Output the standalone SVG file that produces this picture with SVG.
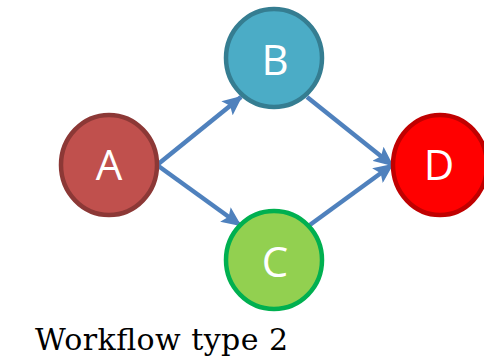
<svg xmlns="http://www.w3.org/2000/svg" width="484" height="359" viewBox="0 0 484 359">
  <style>
    .node ellipse { stroke-width: 4.5; }
    .label { font-family: "Open Sans", "Liberation Sans", sans-serif; font-size: 42px; fill: #ffffff; text-anchor: middle; }
    .edge { stroke: #4F81BD; stroke-width: 4.5; fill: none; marker-end: url(#arrow); }
    .caption { font-family: "DejaVu Serif", "Liberation Serif", serif; font-size: 30px; fill: #000000; }
  </style>
  <defs>
    <marker id="arrow" markerUnits="userSpaceOnUse" markerWidth="20" markerHeight="18" viewBox="0 0 20 18" refX="18" refY="9" orient="auto">
      <path d="M0,0 L20,9 L0,18 L4,9 Z" fill="#4F81BD"/>
    </marker>
  </defs>
  <rect width="484" height="359" fill="#ffffff"/>

  <g id="connectors">
    <line class="edge" x1="157" y1="165" x2="241" y2="97"/>
    <line class="edge" x1="157" y1="165" x2="240" y2="225"/>
    <line class="edge" x1="307" y1="97" x2="392" y2="165"/>
    <line class="edge" x1="307" y1="227" x2="392" y2="165"/>
  </g>

  <g id="node-A" class="node">
    <ellipse cx="109" cy="165" rx="48" ry="50" fill="#C0504D" stroke="#8C3836"/>
    <text class="label" x="109" y="180">A</text>
  </g>
  <g id="node-B" class="node">
    <ellipse cx="274" cy="58" rx="48" ry="49" fill="#4BACC6" stroke="#357D91"/>
    <text class="label" x="275" y="75">B</text>
  </g>
  <g id="node-C" class="node">
    <ellipse cx="274" cy="260" rx="48" ry="49" fill="#92D050" stroke="#00B050"/>
    <text class="label" x="275" y="277">C</text>
  </g>
  <g id="node-D" class="node">
    <ellipse cx="440" cy="165" rx="47" ry="50" fill="#FF0000" stroke="#C00000"/>
    <text class="label" x="439" y="180">D</text>
  </g>

  <text class="caption" x="35" y="350" textLength="253">Workflow type 2</text>
</svg>
